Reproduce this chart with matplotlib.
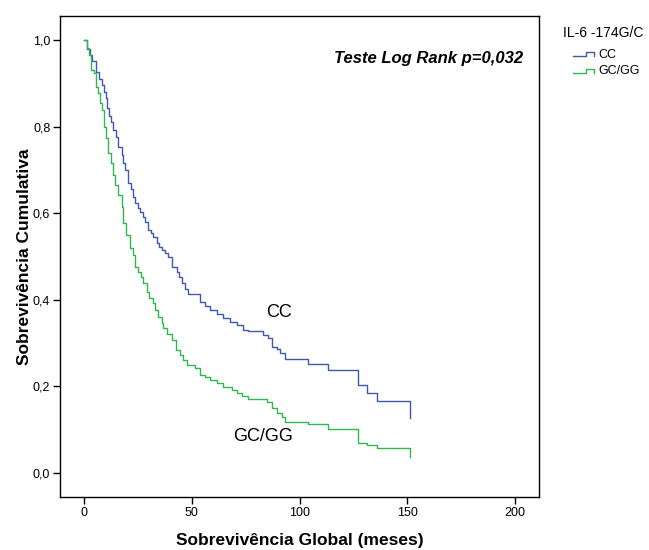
import matplotlib
matplotlib.use("Agg")
import matplotlib.pyplot as plt
from matplotlib.lines import Line2D

# ---- data ----
cc_time = [0, 1.5, 2.8, 3.6, 5.6, 7.0, 8.2, 9.4, 10.1, 10.8, 11.8, 12.4, 13.6, 14.8,
           15.9, 17.5, 18.3, 19.0, 20.6, 21.8, 22.9, 23.7, 25.0, 26.0, 27.2, 28.3,
           29.8, 31.0, 32.2, 33.7, 35.0, 36.1, 37.5, 39.1, 40.7, 43.0, 44.0, 45.3,
           46.8, 48.4, 53.8, 56.0, 58.5, 61.5, 64.6, 67.7, 70.9, 73.9, 76.2, 83.2,
           85.5, 87.1, 89.4, 90.9, 93.3, 104.1, 113.1, 127.0, 131.2, 136.1, 151.3]
cc_surv = [1.0, 0.980, 0.966, 0.952, 0.925, 0.910, 0.896, 0.880, 0.865, 0.843, 0.825,
           0.811, 0.792, 0.775, 0.753, 0.734, 0.715, 0.700, 0.669, 0.655, 0.638, 0.623,
           0.612, 0.603, 0.590, 0.580, 0.561, 0.553, 0.545, 0.530, 0.522, 0.515, 0.507,
           0.499, 0.476, 0.4645, 0.452, 0.438, 0.425, 0.412, 0.395, 0.386, 0.376, 0.366,
           0.357, 0.349, 0.341, 0.330, 0.3275, 0.318, 0.3106, 0.291, 0.285, 0.276,
           0.262, 0.2505, 0.2373, 0.2027, 0.1849, 0.1664, 0.1257]

gc_time = [0, 1.25, 2.3, 3.25, 4.6, 5.4, 6.6, 7.4, 8.5, 9.3, 10.2, 11.3, 12.5, 13.3,
           14.4, 15.9, 17.5, 18.2, 19.5, 21.3, 22.9, 23.7, 25.2, 26.3, 27.5, 29.1,
           30.3, 31.9, 32.9, 34.5, 36.1, 36.8, 38.5, 40.8, 42.7, 44.5, 46.0, 47.7,
           51.5, 53.8, 56.0, 58.5, 61.6, 64.6, 68.5, 71.0, 73.2, 76.2, 84.8, 87.1,
           89.4, 91.7, 93.3, 104.1, 113.1, 127.0, 131.2, 136.1, 151.3]
gc_surv = [1.0, 0.981, 0.965, 0.931, 0.923, 0.892, 0.877, 0.854, 0.838, 0.800, 0.773,
           0.738, 0.715, 0.688, 0.665, 0.642, 0.615, 0.576, 0.549, 0.519, 0.503, 0.476,
           0.4645, 0.453, 0.438, 0.418, 0.403, 0.391, 0.376, 0.3605, 0.345, 0.334,
           0.320, 0.307, 0.284, 0.272, 0.260, 0.249, 0.241, 0.226, 0.220, 0.214, 0.207,
           0.199, 0.191, 0.183, 0.176, 0.170, 0.163, 0.149, 0.137, 0.129, 0.118, 0.1125,
           0.100, 0.069, 0.064, 0.056, 0.037]

x_ticks = [0, 50, 100, 150, 200]
y_ticks = [0.0, 0.2, 0.4, 0.6, 0.8, 1.0]
y_tick_labels = ["0,0", "0,2", "0,4", "0,6", "0,8", "1,0"]

group_names = ["CC", "GC/GG"]
legend_title = "IL-6 -174G/C"
colors = ["#3E58AC", "#2EB84E"]

plt.rcParams['font.family'] = ['Liberation Sans', 'DejaVu Sans']

W, H = 649, 550
fig = plt.figure(figsize=(W / 100, H / 100), dpi=100)
ax = fig.add_axes([60 / W, 1 - 497.3 / H, (539 - 60) / W, (497.3 - 16) / H])

ax.step(cc_time, cc_surv, where='post', color=colors[0], lw=1.0)
ax.step(gc_time, gc_surv, where='post', color=colors[1], lw=1.0)

ax.set_xlim(-11.1, 211.1)
ax.set_ylim(-0.057, 1.0555)
ax.set_xticks(x_ticks)
ax.set_xticklabels([str(v) for v in x_ticks])
ax.set_yticks(y_ticks)
ax.set_yticklabels(y_tick_labels)
ax.tick_params(direction='out', length=5, width=1, labelsize=9, pad=2,
               top=False, right=False)
for sp in ax.spines.values():
    sp.set_linewidth(1.0)
    sp.set_color('black')

ax.set_xlabel("Sobrevivência Global (meses)", fontsize=12.5, fontweight='bold', labelpad=10)
ax.set_ylabel("Sobrevivência Cumulativa", fontsize=12.5, fontweight='bold', labelpad=1)

ax.text(203.7, 0.958, "Teste Log Rank p=0,032", ha='right', va='center',
        fontsize=12, fontweight='bold', fontstyle='italic')
ax.text(90.5, 0.371, group_names[0], ha='center', va='center', fontsize=13)
ax.text(83, 0.0825, group_names[1], ha='center', va='center', fontsize=13)

# legend drawn in figure pixel coordinates
def fx(x):
    return x / W

def fy(y):
    return 1 - y / H

fig.text(fx(563), fy(33), legend_title, ha='left', va='center', fontsize=10)
for name, col, yc in zip(group_names, colors, [54.5, 71.0]):
    xs = [573, 586, 586, 594, 594]
    ys = [yc + 1.5, yc + 1.5, yc - 2.5, yc - 2.5, yc + 1.5]
    fig.add_artist(Line2D([fx(v) for v in xs], [fy(v) for v in ys],
                          transform=fig.transFigure, color=col, lw=1.0))
    fig.text(fx(598), fy(yc), name, ha='left', va='center', fontsize=9)

fig.savefig("out.png", dpi=100)
